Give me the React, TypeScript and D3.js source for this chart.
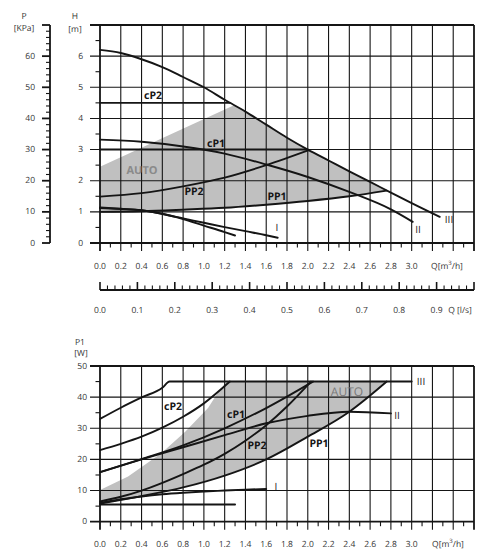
import * as d3 from 'd3';

// tick labels
const qLabels = ['0.0', '0.2', '0.4', '0.6', '0.8', '1.0', '1.2', '1.4', '1.6', '1.8', '2.0', '2.2', '2.4', '2.6', '2.8', '3.0'];
const lsLabels = ['0.0', '0.1', '0.2', '0.3', '0.4', '0.5', '0.6', '0.7', '0.8', '0.9'];
const headLabels = [0, 1, 2, 3, 4, 5, 6];
const kpaLabels = [0, 10, 20, 30, 40, 50, 60];
const powerLabels = [0, 10, 20, 30, 40, 50];

// head curves H [m] vs Q [m3/h]
const headIII = [[0, 6.2], [0.2, 6.1], [0.4, 5.9], [0.6, 5.65], [0.8, 5.33], [1.0, 5.0], [1.2, 4.6], [1.4, 4.22], [1.6, 3.8], [1.8, 3.38], [2.0, 3.0], [2.2, 2.65], [2.4, 2.3], [2.6, 1.96], [2.8, 1.62], [3.0, 1.28], [3.27, 0.84]];
const headII = [[0, 3.32], [0.4, 3.25], [0.8, 3.1], [1.2, 2.87], [1.6, 2.52], [2.0, 2.12], [2.4, 1.64], [2.8, 1.08], [3.01, 0.68]];
const headI = [[0, 1.12], [0.2, 1.09], [0.4, 1.05], [0.6, 0.93], [0.8, 0.79], [1.0, 0.65], [1.2, 0.51], [1.4, 0.38], [1.6, 0.25], [1.71, 0.17]];
const headMin = [[0, 1.14], [0.2, 1.1], [0.4, 1.05], [0.6, 0.94], [0.8, 0.77], [1.0, 0.56], [1.2, 0.35], [1.3, 0.24]];
const headPP2 = [[0, 1.49], [0.4, 1.6], [0.8, 1.82], [1.2, 2.1], [1.6, 2.5], [2.01, 2.98]];
const headPP1 = [[0, 1.0], [0.4, 1.02], [0.8, 1.07], [1.2, 1.13], [1.6, 1.23], [2.0, 1.35], [2.4, 1.5], [2.76, 1.68]];
const headCP2 = [[0, 4.5], [1.25, 4.5]];
const headCP1 = [[0, 3.0], [2.0, 3.0]];
const headAuto = [[0, 1.0], [0, 2.45], [1.29, 4.42], [1.4, 4.22], [1.6, 3.8], [1.8, 3.38], [2.0, 3.0], [2.2, 2.65], [2.4, 2.3], [2.6, 1.96], [2.76, 1.68], [2.4, 1.5], [2.0, 1.35], [1.6, 1.23], [1.2, 1.13], [0.8, 1.07], [0.4, 1.02]];

// power curves P1 [W] vs Q [m3/h]
const powerIII = [[0, 33], [0.2, 36.6], [0.4, 39.9], [0.6, 43.0], [0.67, 45], [3.0, 45]];
const powerCP2 = [[0, 23], [0.2, 25], [0.4, 27.3], [0.6, 30.2], [0.8, 33.7], [1.0, 38], [1.25, 45]];
const powerCP1 = [[0, 15.9], [0.4, 20.1], [0.8, 24.5], [1.2, 30], [1.6, 36.5], [2.05, 45]];
const powerII = [[0, 15.9], [0.4, 20], [0.8, 23.9], [1.2, 27.8], [1.6, 31.6], [2.0, 34], [2.4, 35.3], [2.8, 34.8]];
const powerPP2 = [[0, 6.5], [0.2, 8], [0.4, 10], [0.6, 12.5], [0.8, 15.3], [1.0, 18.3], [1.2, 21.8], [1.4, 26], [1.6, 31], [1.8, 37], [2.03, 45]];
const powerPP1 = [[0, 5.8], [0.4, 8.2], [0.8, 11], [1.2, 14.8], [1.6, 20], [2.0, 27.3], [2.4, 35.3], [2.76, 45]];
const powerI = [[0, 6.0], [0.2, 7.2], [0.4, 8.1], [0.6, 8.8], [0.8, 9.3], [1.0, 9.7], [1.2, 10.0], [1.4, 10.3], [1.6, 10.5]];
const powerMin = [[0, 5.5], [1.3, 5.5]];
const powerAuto = [[0, 5.8], [0, 10.2], [0.27, 14.5], [0.59, 22], [0.82, 28.9], [1.04, 36.5], [1.12, 40.7], [1.22, 45], [2.76, 45], [2.4, 35.3], [2.0, 27.3], [1.6, 20], [1.2, 14.8], [0.8, 11], [0.4, 8.2]];

const FONT = '"Open Sans", "DejaVu Sans", sans-serif';
const INK = '#151515';
const GRAY = '#c0c0c0';

const x = d3.scaleLinear().domain([0, 3.6]).range([100, 474]);
const xLs = d3.scaleLinear().domain([0, 1]).range([100, 474]);
const yH = d3.scaleLinear().domain([0, 7]).range([243, 25]);
const yKpa = d3.scaleLinear().domain([0, 70]).range([243, 25]);
const yP = d3.scaleLinear().domain([0, 50]).range([521.7, 366]);

const Panel = ({ y, yMax, minorStep, children }) => {
  const majors = y.ticks(yMax / (minorStep * 2));
  const minors = y.ticks(yMax / minorStep).filter(v => !majors.includes(v));
  const [bottom, top] = y.range();
  const lineH = (v, i) => <line key={'h' + i} x1={90} x2={474} y1={y(v)} y2={y(v)} stroke={INK} strokeWidth={v === 0 || v === yMax ? 1.8 : 1.1} />;
  return (
    <g>
      {children}
      {x.ticks(18).map((q, i) => (
        <line key={'v' + i} x1={x(q)} x2={x(q)} y1={top} y2={bottom + 8} stroke={INK} strokeWidth={i === 0 || q > 3.59 ? 1.8 : 1.1} />
      ))}
      {x.ticks(36).filter((q, i) => i % 2 === 1).map((q, i) => (
        <line key={'m' + i} x1={x(q)} x2={x(q)} y1={bottom} y2={bottom + 4.5} stroke={INK} strokeWidth={1.1} />
      ))}
      {majors.map(lineH)}
      {minors.map((v, i) => (
        <line key={'n' + i} x1={95.5} x2={100} y1={y(v)} y2={y(v)} stroke={INK} strokeWidth={1.1} />
      ))}
    </g>
  );
};

const Curve = ({ data, y }) => {
  const line = d3.line().x(d => x(d[0])).y(d => y(d[1])).curve(d3.curveMonotoneX);
  return <path d={line(data)} fill="none" stroke={INK} strokeWidth={1.9} strokeLinecap="round" />;
};

const Area = ({ data, y }) => {
  const line = d3.line().x(d => x(d[0])).y(d => y(d[1])).curve(d3.curveLinearClosed);
  return <path d={line(data)} fill={GRAY} stroke="none" />;
};

const Tag = ({ x: tx, y: ty, children, size = 10.5, color = INK, weight = 700 }) => (
  <text x={tx} y={ty} fontSize={size} fontWeight={weight} fill={color} textAnchor="middle" dominantBaseline="central" fontFamily={FONT}>{children}</text>
);

const tickText = { fontSize: 8.5, fill: '#333', fontFamily: FONT };

export default function App() {
  return (
    <svg width={495} height={557} textRendering="geometricPrecision" style={{ position: 'absolute', left: 0, top: 0, background: '#fff' }}>
      {/* head chart */}
      <Panel y={yH} yMax={7} minorStep={0.5}>
        <Area data={headAuto} y={yH} />
      </Panel>
      <Curve data={headIII} y={yH} />
      <Curve data={headII} y={yH} />
      <Curve data={headI} y={yH} />
      <Curve data={headMin} y={yH} />
      <Curve data={headPP2} y={yH} />
      <Curve data={headPP1} y={yH} />
      <Curve data={headCP2} y={yH} />
      <Curve data={headCP1} y={yH} />
      <Tag x={153} y={96}>cP2</Tag>
      <Tag x={216} y={144}>cP1</Tag>
      <Tag x={142} y={170} color="#8a8a8a" size={11}>AUTO</Tag>
      <Tag x={194} y={192}>PP2</Tag>
      <Tag x={277} y={197}>PP1</Tag>
      <Tag x={277} y={227} weight={400} size={10} color="#222">I</Tag>
      <Tag x={418} y={229} weight={400} size={10} color="#222">II</Tag>
      <Tag x={449} y={219} weight={400} size={10} color="#222">III</Tag>

      {/* head axis labels */}
      {headLabels.map(v => (
        <text key={'hl' + v} x={83} y={yH(v)} textAnchor="end" dominantBaseline="central" {...tickText}>{v}</text>
      ))}
      <text x={75} y={16} textAnchor="middle" dominantBaseline="central" {...tickText}>H</text>
      <text x={75} y={29} textAnchor="middle" dominantBaseline="central" {...tickText}>[m]</text>

      {/* pressure axis */}
      <line x1={50} x2={50} y1={25} y2={243} stroke={INK} strokeWidth={1.8} />
      {yKpa.ticks(35).map((v, i) => (
        <line key={'k' + i} x1={v % 10 === 0 ? 42 : 46} x2={50} y1={yKpa(v)} y2={yKpa(v)} stroke={INK} strokeWidth={v % 10 === 0 ? 1.8 : 1.1} />
      ))}
      {kpaLabels.map(v => (
        <text key={'kl' + v} x={35} y={yKpa(v)} textAnchor="end" dominantBaseline="central" {...tickText}>{v}</text>
      ))}
      <text x={24} y={16} textAnchor="middle" dominantBaseline="central" {...tickText}>P</text>
      <text x={24} y={28} textAnchor="middle" dominantBaseline="central" {...tickText}>[KPa]</text>

      {/* Q labels head chart */}
      {qLabels.map(s => (
        <text key={'q1' + s} x={x(+s)} y={266} textAnchor="middle" dominantBaseline="central" {...tickText}>{s}</text>
      ))}
      <text x={447} y={266} textAnchor="middle" dominantBaseline="central" {...tickText}>Q[m<tspan dy={-3} fontSize={6}>3</tspan><tspan dy={3}>/h]</tspan></text>

      {/* l/s axis */}
      <line x1={100} x2={474} y1={290} y2={290} stroke={INK} strokeWidth={1.8} />
      {xLs.ticks(50).map((v, i) => (
        <line key={'ls' + i} x1={xLs(v)} x2={xLs(v)} y1={290} y2={i % 5 === 0 ? 282 : 285.5} stroke={INK} strokeWidth={i % 5 === 0 ? 1.6 : 1.1} />
      ))}
      {lsLabels.map(s => (
        <text key={'lsl' + s} x={xLs(+s)} y={310} textAnchor="middle" dominantBaseline="central" {...tickText}>{s}</text>
      ))}
      <text x={460} y={310} textAnchor="middle" dominantBaseline="central" {...tickText}>Q [l/s]</text>

      {/* power chart */}
      <Panel y={yP} yMax={50} minorStep={5}>
        <Area data={powerAuto} y={yP} />
      </Panel>
      <Curve data={powerIII} y={yP} />
      <Curve data={powerCP2} y={yP} />
      <Curve data={powerCP1} y={yP} />
      <Curve data={powerII} y={yP} />
      <Curve data={powerPP2} y={yP} />
      <Curve data={powerPP1} y={yP} />
      <Curve data={powerI} y={yP} />
      <Curve data={powerMin} y={yP} />
      <Tag x={173} y={407}>cP2</Tag>
      <Tag x={236} y={415}>cP1</Tag>
      <Tag x={257} y={446}>PP2</Tag>
      <Tag x={319} y={444}>PP1</Tag>
      <Tag x={347} y={391} color="#7a7a7a" size={12} weight={400}>AUTO</Tag>
      <Tag x={276} y={486} weight={400} size={10} color="#222">I</Tag>
      <Tag x={397} y={415} weight={400} size={10} color="#222">II</Tag>
      <Tag x={421} y={381} weight={400} size={10} color="#222">III</Tag>

      {powerLabels.map(v => (
        <text key={'pl' + v} x={87} y={yP(v)} textAnchor="end" dominantBaseline="central" {...tickText}>{v}</text>
      ))}
      <text x={80} y={342} textAnchor="middle" dominantBaseline="central" {...tickText}>P1</text>
      <text x={81} y={353} textAnchor="middle" dominantBaseline="central" {...tickText}>[W]</text>

      {qLabels.map(s => (
        <text key={'q2' + s} x={x(+s)} y={544} textAnchor="middle" dominantBaseline="central" {...tickText}>{s}</text>
      ))}
      <text x={448} y={544} textAnchor="middle" dominantBaseline="central" {...tickText}>Q[m<tspan dy={-3} fontSize={6}>3</tspan><tspan dy={3}>/h]</tspan></text>
    </svg>
  );
}
